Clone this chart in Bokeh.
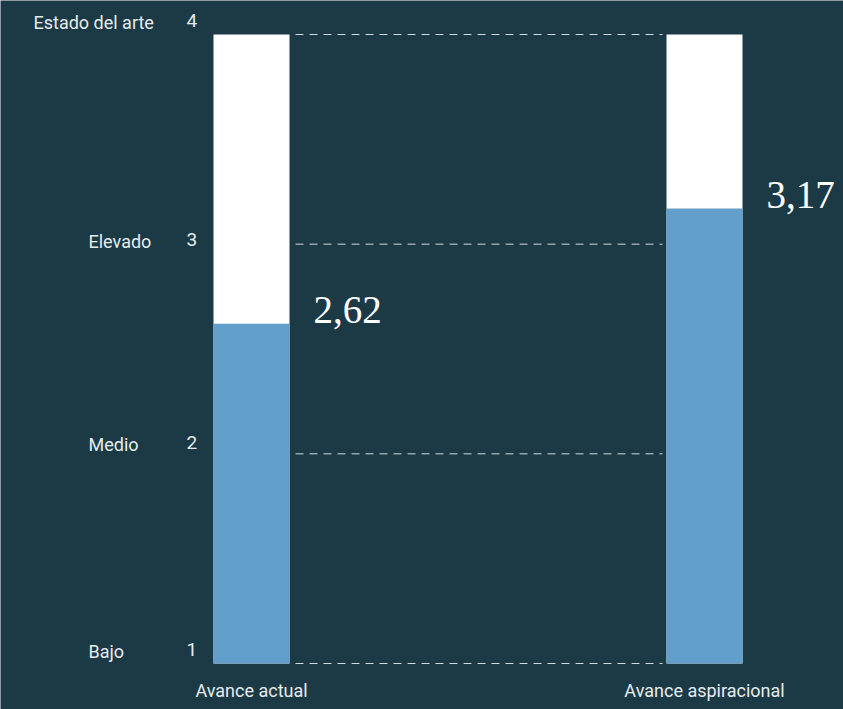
from bokeh.plotting import figure
from bokeh.models import ColumnDataSource, Range1d
from bokeh.embed import file_html
from bokeh.resources import INLINE
from bokeh.core.properties import value

# ---- data ----
bars = ["Avance actual", "Avance aspiracional"]
scores = [2.62, 3.17]
score_labels = ["2,62", "3,17"]
levels = [4, 3, 2, 1]
level_names = ["Estado del arte", "Elevado", "Medio", "Bajo"]
level_ticks = ["4", "3", "2", "1"]
scale_min, scale_max = 1, 4

BG = "#1b3a46"
BLUE = "#62a0cb"
TXT = "#e6ecee"

W, H = 843, 709
px_per_unit = (663 - 34) / 3.0
y_top = scale_max + 34 / px_per_unit
y_bot = scale_min - (H - 663) / px_per_unit

p = figure(width=W, height=H, output_backend="svg", toolbar_location=None,
           x_range=Range1d(0, W), y_range=Range1d(y_bot, y_top),
           min_border=0, min_border_left=0, min_border_right=0,
           min_border_top=0, min_border_bottom=0)
p.axis.visible = False
p.grid.visible = False
p.outline_line_color = None
p.background_fill_color = BG
p.border_fill_color = BG

xc = [251, 704]
bw = 76

# dashed reference lines
for lv in levels:
    p.line([295, 662], [lv, lv], line_color=TXT, line_width=1, line_dash="8 6", line_alpha=0.9)

src = ColumnDataSource(dict(x=xc, v=scores, lab=score_labels, name=bars,
                            top=[scale_max] * 2, bottom=[scale_min] * 2,
                            yb=[y_bot] * 2,
                            lx=[x + bw / 2 + 24 for x in xc]))
p.vbar(x="x", width=bw, bottom="bottom", top="top", source=src, fill_color="white", line_color=None)
p.vbar(x="x", width=bw, bottom="bottom", top="v", source=src, fill_color=BLUE, line_color=None)

p.text(x="lx", y="v", text="lab", source=src, text_font=value("Liberation Serif"),
       text_font_size="39px", text_color="white", text_baseline="alphabetic", text_align="left",
       y_offset=-14)

p.text(x="x", y="yb", text="name", source=src, text_font=value("Roboto"),
       text_font_size="18px", text_color=TXT, text_baseline="middle", text_align="center",
       y_offset=-19)

offs = [-12, -3, -9, -12]
name_x = [33, 88, 88, 88]
for i in range(len(levels)):
    p.text(x=[name_x[i]], y=[levels[i]], text=[level_names[i]], text_font=value("Roboto"),
           text_font_size="18px", text_color=TXT, text_baseline="middle", text_align="left",
           y_offset=offs[i])
    p.text(x=[186], y=[levels[i]], text=[level_ticks[i]], text_font=value("Roboto"),
           text_font_size="19px", text_color=TXT, text_baseline="middle", text_align="left",
           y_offset=offs[i] - 2)

open("out.html", "w").write(file_html(p, INLINE))
